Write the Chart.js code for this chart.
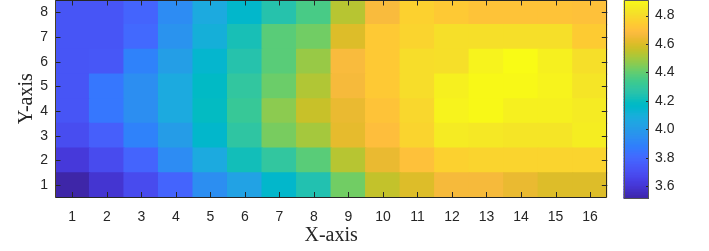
<!DOCTYPE html>
<html>
<head>
<meta charset="utf-8">
<script src="https://cdn.jsdelivr.net/npm/chart.js@4.4.0/dist/chart.umd.min.js"></script>
<style>
  html, body { margin: 0; padding: 0; background: #fff; }
  #wrap { position: relative; width: 709px; height: 251px; overflow: hidden; }
  #main { position: absolute; left: 0; top: 0; }
  #cbar { position: absolute; left: 600px; top: 0; }
</style>
</head>
<body>
<div id="wrap">
  <canvas id="main" width="709" height="251"></canvas>
  <canvas id="cbar" width="109" height="251"></canvas>
</div>
<script>
// ============ Data ============
const xLabels = [1, 2, 3, 4, 5, 6, 7, 8, 9, 10, 11, 12, 13, 14, 15, 16];
const yLabels = [1, 2, 3, 4, 5, 6, 7, 8];

// one array per row, bottom (y=1) to top (y=8)
const row1 = [3.51, 3.59, 3.68, 3.78, 3.94, 4.03, 4.15, 4.24, 4.42, 4.55, 4.60, 4.66, 4.66, 4.63, 4.60, 4.60];
const row2 = [3.61, 3.68, 3.78, 3.93, 4.07, 4.21, 4.29, 4.38, 4.53, 4.63, 4.70, 4.76, 4.77, 4.77, 4.77, 4.77];
const row3 = [3.69, 3.76, 3.89, 4.00, 4.15, 4.28, 4.43, 4.50, 4.62, 4.69, 4.77, 4.85, 4.84, 4.83, 4.83, 4.86];
const row4 = [3.72, 3.85, 3.94, 4.07, 4.18, 4.31, 4.46, 4.56, 4.63, 4.71, 4.78, 4.88, 4.90, 4.87, 4.87, 4.85];
const row5 = [3.72, 3.85, 3.94, 4.07, 4.17, 4.29, 4.41, 4.52, 4.66, 4.73, 4.80, 4.87, 4.90, 4.90, 4.88, 4.83];
const row6 = [3.72, 3.73, 3.89, 4.01, 4.14, 4.25, 4.38, 4.48, 4.67, 4.73, 4.80, 4.81, 4.88, 4.91, 4.87, 4.81];
const row7 = [3.72, 3.72, 3.80, 3.96, 4.10, 4.22, 4.38, 4.42, 4.60, 4.73, 4.77, 4.81, 4.81, 4.81, 4.81, 4.74];
const row8 = [3.72, 3.72, 3.78, 3.93, 4.07, 4.15, 4.25, 4.35, 4.53, 4.67, 4.76, 4.73, 4.71, 4.71, 4.71, 4.70];
const rows = [row1, row2, row3, row4, row5, row6, row7, row8];

const cbTicks = [3.6, 3.8, 4, 4.2, 4.4, 4.6, 4.8];
const C_MIN = 3.51, C_MAX = 4.91;

// ============ Colormap (parula, 64) ============
const PARULA = [
  [0.2422,0.1504,0.6603],[0.2504,0.1650,0.7076],[0.2578,0.1818,0.7511],[0.2647,0.1978,0.7952],
  [0.2706,0.2147,0.8364],[0.2751,0.2342,0.8710],[0.2783,0.2559,0.8991],[0.2803,0.2782,0.9221],
  [0.2813,0.3006,0.9414],[0.2810,0.3228,0.9579],[0.2795,0.3447,0.9717],[0.2760,0.3667,0.9829],
  [0.2699,0.3892,0.9906],[0.2602,0.4123,0.9952],[0.2440,0.4358,0.9988],[0.2206,0.4603,0.9973],
  [0.1963,0.4847,0.9892],[0.1834,0.5074,0.9798],[0.1786,0.5289,0.9682],[0.1764,0.5499,0.9520],
  [0.1687,0.5703,0.9359],[0.1540,0.5902,0.9218],[0.1460,0.6091,0.9079],[0.1380,0.6276,0.8973],
  [0.1248,0.6459,0.8883],[0.1113,0.6635,0.8763],[0.0952,0.6798,0.8598],[0.0689,0.6948,0.8394],
  [0.0297,0.7082,0.8163],[0.0036,0.7203,0.7917],[0.0067,0.7312,0.7660],[0.0433,0.7411,0.7394],
  [0.0964,0.7500,0.7120],[0.1408,0.7584,0.6842],[0.1717,0.7670,0.6554],[0.1938,0.7758,0.6251],
  [0.2161,0.7843,0.5923],[0.2470,0.7918,0.5567],[0.2906,0.7973,0.5188],[0.3406,0.8008,0.4789],
  [0.3909,0.8029,0.4354],[0.4456,0.8024,0.3909],[0.5044,0.7993,0.3480],[0.5616,0.7942,0.3045],
  [0.6174,0.7876,0.2612],[0.6720,0.7793,0.2227],[0.7242,0.7698,0.1910],[0.7738,0.7598,0.1646],
  [0.8203,0.7498,0.1535],[0.8634,0.7406,0.1596],[0.9035,0.7330,0.1774],[0.9393,0.7288,0.2100],
  [0.9728,0.7298,0.2394],[0.9956,0.7434,0.2371],[0.9970,0.7659,0.2199],[0.9952,0.7893,0.2028],
  [0.9892,0.8136,0.1885],[0.9786,0.8386,0.1766],[0.9676,0.8639,0.1643],[0.9610,0.8890,0.1537],
  [0.9597,0.9135,0.1423],[0.9628,0.9373,0.1265],[0.9691,0.9606,0.1064],[0.9769,0.9839,0.0805]
];

const clamp = (v, a, b) => Math.max(a, Math.min(b, v));

function parula(v){
  const t = clamp((v - C_MIN) / (C_MAX - C_MIN), 0, 1);
  const f = t * (PARULA.length - 1);
  const i = Math.floor(f), j = Math.min(i + 1, PARULA.length - 1), w = f - i;
  const c = PARULA[i].map((a, k) => Math.round(255 * (a + (PARULA[j][k] - a) * w)));
  return `rgb(${c[0]},${c[1]},${c[2]})`;
}

const AX = "#262626";
const TICK_FONT = { family: "'Liberation Sans', Arial, sans-serif", size: 14 };
const LABEL_FONT = { family: "'Liberation Serif', 'Times New Roman', serif", size: 20 };

// zero out Chart.js edge padding so chartArea is exactly where we ask
function noPad(scale){
  scale.paddingTop = 0; scale.paddingBottom = 0;
  scale.paddingLeft = 0; scale.paddingRight = 0;
}

// MATLAB style box with inward ticks
const boxTicks = {
  id: "boxTicks",
  afterDatasetsDraw(chart, args, opts){
    const { ctx, chartArea: a, scales } = chart;
    const len = opts.len || 5;
    ctx.save();
    ctx.strokeStyle = AX;
    ctx.lineWidth = 1;
    ctx.beginPath();
    if (opts.xTicks){
      scales.x.ticks.forEach((t, i) => {
        const px = Math.round(scales.x.getPixelForTick(i)) + 0.5;
        ctx.moveTo(px, a.bottom); ctx.lineTo(px, a.bottom - len);
        ctx.moveTo(px, a.top);    ctx.lineTo(px, a.top + len);
      });
    }
    scales.y.ticks.forEach(t => {
      const py = Math.round(scales.y.getPixelForValue(t.value)) + 0.5;
      if (opts.leftTicks){ ctx.moveTo(a.left, py); ctx.lineTo(a.left + len, py); }
      ctx.moveTo(a.right, py); ctx.lineTo(a.right - len, py);
    });
    ctx.stroke();

    // box: left edge drawn separately (reference shows it a touch olive)
    const L = Math.round(a.left) + 0.5, R = Math.round(a.right) - 0.5;
    const T = Math.round(a.top) + 0.5, B = Math.round(a.bottom) - 0.5;
    ctx.strokeStyle = opts.boxColor || AX;
    ctx.beginPath();
    ctx.moveTo(L, T); ctx.lineTo(R, T); ctx.lineTo(R, B); ctx.lineTo(L, B);
    ctx.stroke();
    ctx.strokeStyle = opts.leftColor || opts.boxColor || AX;
    ctx.beginPath();
    ctx.moveTo(L, T); ctx.lineTo(L, B);
    ctx.stroke();
    ctx.restore();
  }
};

// ============ Heatmap ============
const heatSets = rows.map((vals, r) => ({
  label: "y" + yLabels[r],
  data: vals.map(() => [yLabels[r] - 0.5, yLabels[r] + 0.5]),
  backgroundColor: vals.map(v => parula(v)),
  borderWidth: 0,
  inflateAmount: 0.6,
  barPercentage: 1,
  categoryPercentage: 1,
  grouped: false
}));

new Chart(document.getElementById("main"), {
  type: "bar",
  data: { labels: xLabels, datasets: heatSets },
  options: {
    responsive: false,
    animation: false,
    layout: { padding: { left: 0, right: 101.7, top: 0, bottom: 0 } },
    scales: {
      x: {
        type: "category",
        grid: { display: false, drawTicks: false },
        border: { display: false },
        ticks: { color: AX, font: TICK_FONT, padding: 11, maxRotation: 0, autoSkip: false },
        title: { display: true, text: "X-axis", color: AX, font: LABEL_FONT, padding: { top: 0, bottom: 3 } },
        afterFit(s){ s.height = 53.5; noPad(s); }
      },
      y: {
        type: "linear",
        min: 0.5, max: 8.5,
        grid: { display: false, drawTicks: false },
        border: { display: false },
        afterBuildTicks(s){ s.ticks = yLabels.map(v => ({ value: v })); },
        ticks: { color: AX, font: TICK_FONT, padding: 7 },
        title: { display: true, text: "Y-axis", color: AX, font: LABEL_FONT, padding: { top: 15, bottom: 0 } },
        afterFit(s){ s.width = 55; noPad(s); }
      }
    },
    plugins: {
      legend: { display: false },
      tooltip: { enabled: false },
      boxTicks: { len: 5.5, xTicks: true, leftTicks: true, leftColor: "#4a4220" }
    }
  },
  plugins: [boxTicks]
});

// ============ Colorbar ============
const CB_STEPS = 128;
const cbSets = Array.from({ length: CB_STEPS }, (_, k) => {
  const lo = C_MIN + (C_MAX - C_MIN) * k / CB_STEPS;
  const hi = C_MIN + (C_MAX - C_MIN) * (k + 1) / CB_STEPS;
  return {
    data: [[lo, hi]],
    backgroundColor: parula((lo + hi) / 2),
    borderWidth: 0,
    inflateAmount: 0.6,
    barPercentage: 1,
    categoryPercentage: 1,
    grouped: false
  };
});

new Chart(document.getElementById("cbar"), {
  type: "bar",
  data: { labels: ["c"], datasets: cbSets },
  options: {
    responsive: false,
    animation: false,
    layout: { padding: { left: 23.5, right: 0, top: 0, bottom: 52 } },
    scales: {
      x: { display: false },
      y: {
        type: "linear",
        position: "right",
        min: C_MIN, max: C_MAX,
        grid: { display: false, drawTicks: false },
        border: { display: false },
        afterBuildTicks(s){ s.ticks = cbTicks.map(v => ({ value: v })); },
        ticks: { color: AX, font: TICK_FONT, padding: 6 },
        afterFit(s){ s.width = 60; noPad(s); }
      }
    },
    plugins: {
      legend: { display: false },
      tooltip: { enabled: false },
      boxTicks: { len: 3, xTicks: false, leftTicks: false, boxColor: "#555" }
    }
  },
  plugins: [boxTicks]
});
</script>
</body>
</html>
